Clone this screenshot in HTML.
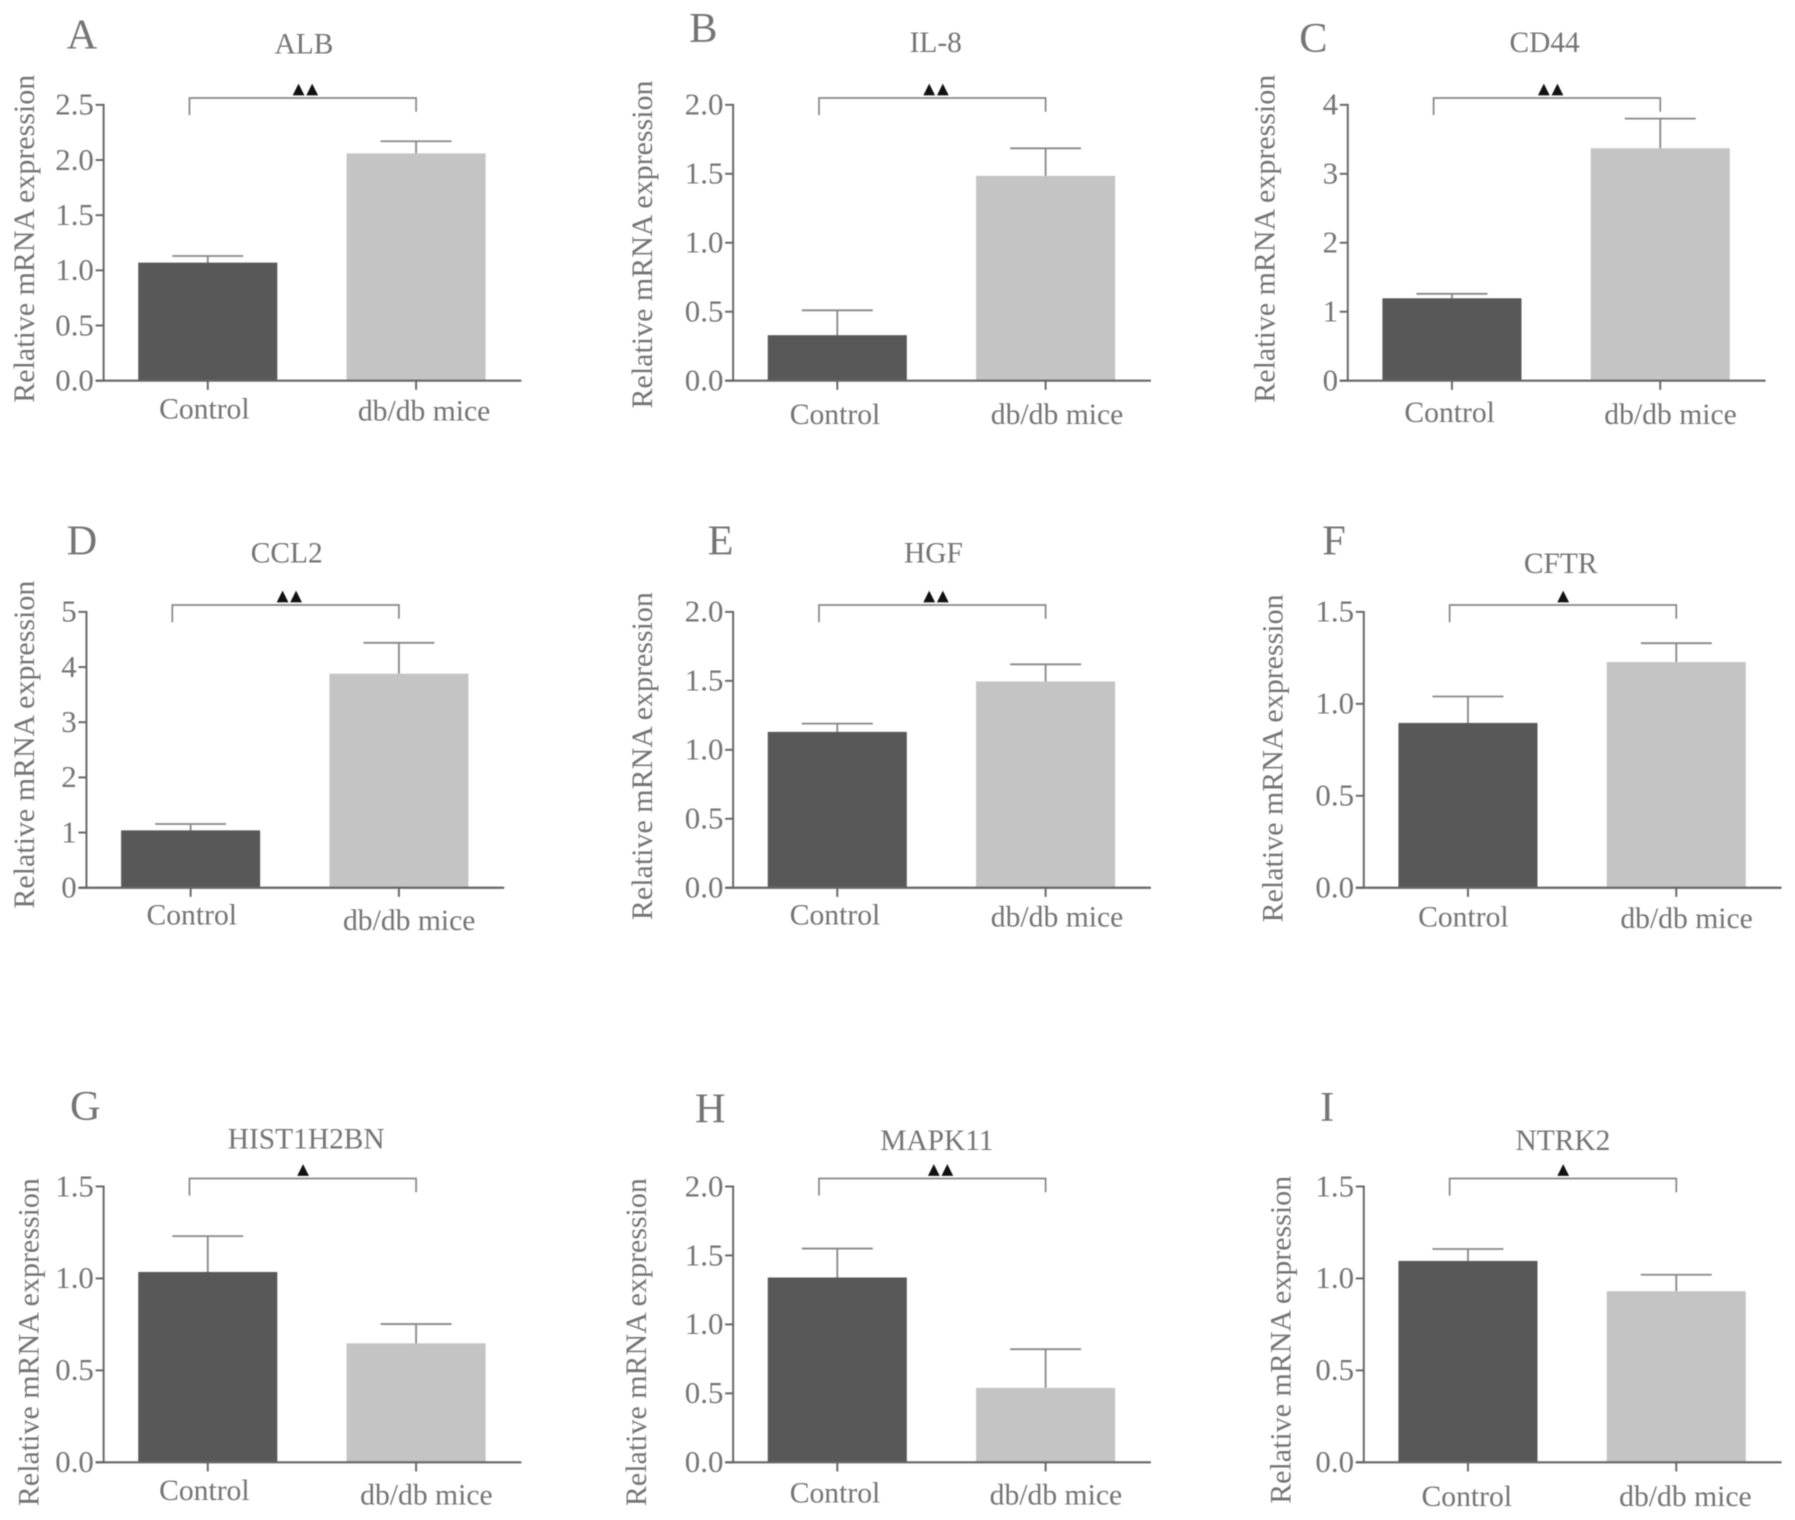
<!DOCTYPE html>
<html lang="en">
<head>
<meta charset="utf-8">
<title>Relative mRNA expression panels</title>
<style>
html,body{margin:0;padding:0;background:#fff;width:1795px;height:1520px;overflow:hidden}
svg{display:block;filter:blur(0.6px)}
text{font-family:"Liberation Serif",serif;fill:#747474}
.mark{font-family:"DejaVu Sans",sans-serif;fill:#111;letter-spacing:1.5px}
</style>
</head>
<body>
<svg id="figure" xmlns="http://www.w3.org/2000/svg" width="1795" height="1520" viewBox="-0.4 -0.6 1568 1328"></svg>
<script>
// ---- Chart data ----
const categories = ['Control', 'db/db mice'];
const panelLetters = ['A', 'B', 'C', 'D', 'E', 'F', 'G', 'H', 'I'];
const geneNames = ['ALB', 'IL-8', 'CD44', 'CCL2', 'HGF', 'CFTR', 'HIST1H2BN', 'MAPK11', 'NTRK2'];
const yAxisTitle = 'Relative mRNA expression';
const tickLabels = [
  ['0.0', '0.5', '1.0', '1.5', '2.0', '2.5'],
  ['0.0', '0.5', '1.0', '1.5', '2.0'],
  ['0', '1', '2', '3', '4'],
  ['0', '1', '2', '3', '4', '5'],
  ['0.0', '0.5', '1.0', '1.5', '2.0'],
  ['0.0', '0.5', '1.0', '1.5'],
  ['0.0', '0.5', '1.0', '1.5'],
  ['0.0', '0.5', '1.0', '1.5', '2.0'],
  ['0.0', '0.5', '1.0', '1.5']
];
const controlMeans = [1.07, 0.33, 1.195, 1.04, 1.13, 0.896, 1.035, 1.34, 1.095];
const controlErrors = [0.06, 0.18, 0.065, 0.115, 0.06, 0.144, 0.195, 0.21, 0.065];
const miceMeans = [2.06, 1.485, 3.37, 3.88, 1.495, 1.227, 0.647, 0.54, 0.93];
const miceErrors = [0.11, 0.20, 0.43, 0.56, 0.125, 0.103, 0.105, 0.28, 0.09];
const significance = ['▲▲', '▲▲', '▲▲', '▲▲', '▲▲', '▲', '▲', '▲▲', '▲'];

// ---- Layout (not data) ----
const axisLeft = [90, 640, 1177, 75, 640, 1191, 90, 640, 1191];
const axisTop = [91, 91, 91, 534, 534, 534, 1036, 1036, 1036];
const plotHeight = 241;
const barCentersOffset = [91, 273];
const barWidth = 121.5;
const capWidth = 62;
const bracketY = [85, 85, 85, 528, 528, 528, 1029, 1029, 1029];
const letterPos = [[71, 42], [614, 36], [1147, 45], [71, 484], [629, 484], [1165, 484], [74, 978], [620, 980], [1159, 979]];
const titlePos = [[265, 46], [817, 45], [1349, 45], [250, 491], [815, 491], [1363, 500], [267, 1003], [818, 1004], [1365, 1004]];
const markPos = [[267, 81], [818, 81], [1355, 81], [253, 524], [818, 524], [1366, 524], [265, 1025], [822, 1025], [1366, 1025]];
const yTitlePos = [[21, 208], [561, 213], [1105, 208], [21, 650], [561, 660], [1112, 662], [25, 1172], [556, 1172], [1119, 1170]];
const controlLabelPos = [[178, 365], [729, 370], [1266, 368], [167, 807], [729, 807], [1278, 809], [178, 1310], [729, 1312], [1281, 1315]];
const miceLabelPos = [[370, 367], [923, 370], [1459, 370], [357, 812], [923, 809], [1473, 810], [372, 1314], [922, 1314], [1472, 1315]];

const SVG_NS = 'http://www.w3.org/2000/svg';
const figure = document.getElementById('figure');

function make(tag, attrs, parent, content) {
  const node = document.createElementNS(SVG_NS, tag);
  for (const key in attrs) node.setAttribute(key, attrs[key]);
  if (content !== undefined) node.textContent = content;
  parent.appendChild(node);
  return node;
}

function lineNode(x1, y1, x2, y2, stroke, width, parent) {
  return make('line', { x1: x1, y1: y1, x2: x2, y2: y2, stroke: stroke, 'stroke-width': width }, parent);
}

geneNames.forEach(function (gene, i) {
  const left = axisLeft[i];
  const top = axisTop[i];
  const bottom = top + plotHeight;
  const labels = tickLabels[i];
  const yMax = parseFloat(labels[labels.length - 1]);
  const yScale = function (v) { return bottom - (v / yMax) * plotHeight; };
  const xScale = function (c) { return left + barCentersOffset[c]; };

  const g = make('g', {}, figure);
  
  

  const letter = make('text', { x: letterPos[i][0], y: letterPos[i][1], 'font-size': 37, 'text-anchor': 'middle' }, g, panelLetters[i]);
  
  

  const title = make('text', { x: titlePos[i][0], y: titlePos[i][1], 'font-size': 25.7, 'text-anchor': 'middle' }, g, gene);
  
  

  const yTitle = make('text', {
    x: 0, y: 0, 'font-size': 26.2, 'text-anchor': 'middle',
    transform: 'translate(' + (yTitlePos[i][0] + 8) + ',' + yTitlePos[i][1] + ') rotate(-90)'
  }, g, yAxisTitle);
  
  

  // Bars and error bars
  [controlMeans[i], miceMeans[i]].forEach(function (mean, c) {
    const err = c === 0 ? controlErrors[i] : miceErrors[i];
    const cx = xScale(c);
    const errTop = yScale(mean + err);

    const stem = lineNode(cx, yScale(mean), cx, errTop, '#888', 1.6, g);
    
    

    const cap = lineNode(cx - capWidth / 2, errTop, cx + capWidth / 2, errTop, '#888', 1.6, g);
    
    

    const bar = make('rect', {
      x: cx - barWidth / 2, y: yScale(mean), width: barWidth, height: bottom - yScale(mean),
      fill: c === 0 ? '#585858' : '#c4c4c4'
    }, g);
    
    
  });

  // Y axis
  const yAxis = lineNode(left, top - 0.8, left, bottom + 0.8, '#666', 1.7, g);
  
  

  labels.forEach(function (label) {
    const value = parseFloat(label);
    const ty = yScale(value);
    const tick = lineNode(left - 7, ty, left, ty, '#666', 1.7, g);
    
    

    const tickText = make('text', { x: left - 8.5, y: ty + 8.6, 'font-size': 27, 'text-anchor': 'end' }, g, label);
    
    
  });

  // X axis
  const xAxis = lineNode(left - 7, bottom, left + 365, bottom, '#666', 1.9, g);
  
  

  categories.forEach(function (category, c) {
    const cx = xScale(c);
    const tick = lineNode(cx, bottom, cx, bottom + 8, '#666', 1.7, g);
    
    

    const pos = c === 0 ? controlLabelPos[i] : miceLabelPos[i];
    const catText = make('text', { x: pos[0], y: pos[1], 'font-size': 25.9, 'text-anchor': 'middle' }, g, category);
    
    
  });

  // Significance bracket
  const bx1 = left + 75;
  const bx2 = left + 273;
  const by = bracketY[i];
  const bracket = make('path', {
    d: 'M' + bx1 + ' ' + (by + 15) + 'V' + by + 'H' + bx2 + 'V' + (by + 12),
    fill: 'none', stroke: '#888', 'stroke-width': 1.5
  }, g);
  
  

  const mark = make('text', {
    x: markPos[i][0], y: markPos[i][1], 'font-size': 13.5, 'text-anchor': 'middle', 'class': 'mark'
  }, g, significance[i]);
  
  
});
</script>
</body>
</html>
